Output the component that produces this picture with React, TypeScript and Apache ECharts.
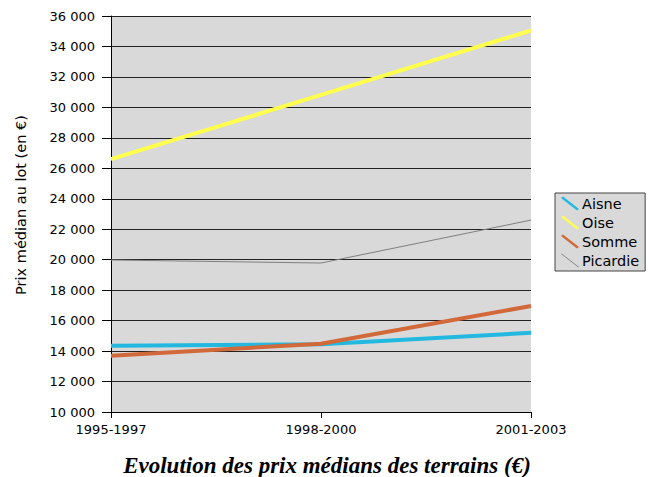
import React, { useEffect, useRef } from "react";
import * as echarts from "echarts";

const categories = ["1995-1997", "1998-2000", "2001-2003"];
const aisne = [14350, 14450, 15200];
const oise = [26600, 30820, 35050];
const somme = [13700, 14480, 16960];
const picardie = [19980, 19780, 22600];
const yName = "Prix médian au lot (en €)";
const titleText = "Evolution des prix médians des terrains (€)";

const fmt = (v: number) => {
  const s = String(Math.round(v));
  return s.replace(/\B(?=(\d{3})+(?!\d))/g, " ");
};

const FONT = "DejaVu Sans, Arial, sans-serif";

export default function App() {
  const ref = useRef<HTMLDivElement>(null);
  useEffect(() => {
    const chart = echarts.init(ref.current!, null, { renderer: "svg" });
    const thick = "path://M0,1.5 L2,0 L18,12.5 L16,14 Z";
    const thin = "path://M0,0.4 L0.6,0 L18,13.6 L17.4,14 Z";
    const mk = (name: string, data: number[], color: string, width: number) => ({
      name,
      type: "line",
      data,
      symbol: "none",
      lineStyle: { color, width },
      itemStyle: { color },
    });
    chart.setOption({
      animation: false,
      grid: { left: 111, top: 16, right: 118, bottom: 65, show: true, backgroundColor: "#D9D9D9", borderWidth: 0 },
      xAxis: {
        type: "category",
        data: categories,
        boundaryGap: false,
        axisLine: { show: true, lineStyle: { color: "#000", width: 1 } },
        axisTick: { show: true, alignWithLabel: true, length: 6, lineStyle: { color: "#000" } },
        axisLabel: { color: "#000", fontFamily: FONT, fontSize: 13, margin: 11 },
        splitLine: { show: false },
      },
      yAxis: {
        type: "value",
        min: 10000,
        max: 36000,
        interval: 2000,
        axisLine: { show: true, lineStyle: { color: "#000", width: 1 } },
        axisTick: { show: true, length: 9, lineStyle: { color: "#000" } },
        axisLabel: { color: "#000", fontFamily: FONT, fontSize: 13, margin: 16, formatter: (v: number) => fmt(v) },
        splitLine: { show: true, lineStyle: { color: "#222", width: 1 } },
      },
      graphic: [
        {
          type: "text",
          x: 21,
          y: 205,
          rotation: Math.PI / 2,
          style: { text: yName, align: "center", verticalAlign: "middle", fill: "#000", font: `14.5px ${FONT}` },
        },
      ],
      legend: {
        orient: "vertical",
        left: 555,
        top: 193,
        padding: [3, 6, 3, 6],
        itemGap: 4,
        itemWidth: 18,
        itemHeight: 14,
        borderColor: "#444",
        borderWidth: 1,
        backgroundColor: "#D9D9D9",
        borderRadius: 0,
        textStyle: { color: "#000", fontFamily: FONT, fontSize: 14.5, padding: [0, 0, 0, -2] },
        data: [
          { name: "Aisne", icon: thick },
          { name: "Oise", icon: thick },
          { name: "Somme", icon: thick },
          { name: "Picardie", icon: thin },
        ],
      },
      title: {
        text: titleText,
        left: 322,
        textAlign: "center",
        top: 449,
        textStyle: { fontFamily: "Liberation Serif, Times New Roman, serif", fontStyle: "italic", fontWeight: "bold", fontSize: 23, color: "#000" },
      },
      series: [
        mk("Aisne", aisne, "#22B8E0", 4),
        mk("Oise", oise, "#FFFF4D", 4),
        mk("Somme", somme, "#D2693A", 4),
        mk("Picardie", picardie, "#7F7F7F", 1),
      ],
    });
    return () => chart.dispose();
  }, []);
  return <div ref={ref} style={{ position: "absolute", left: 0, top: 0, width: 649, height: 477 }} />;
}
